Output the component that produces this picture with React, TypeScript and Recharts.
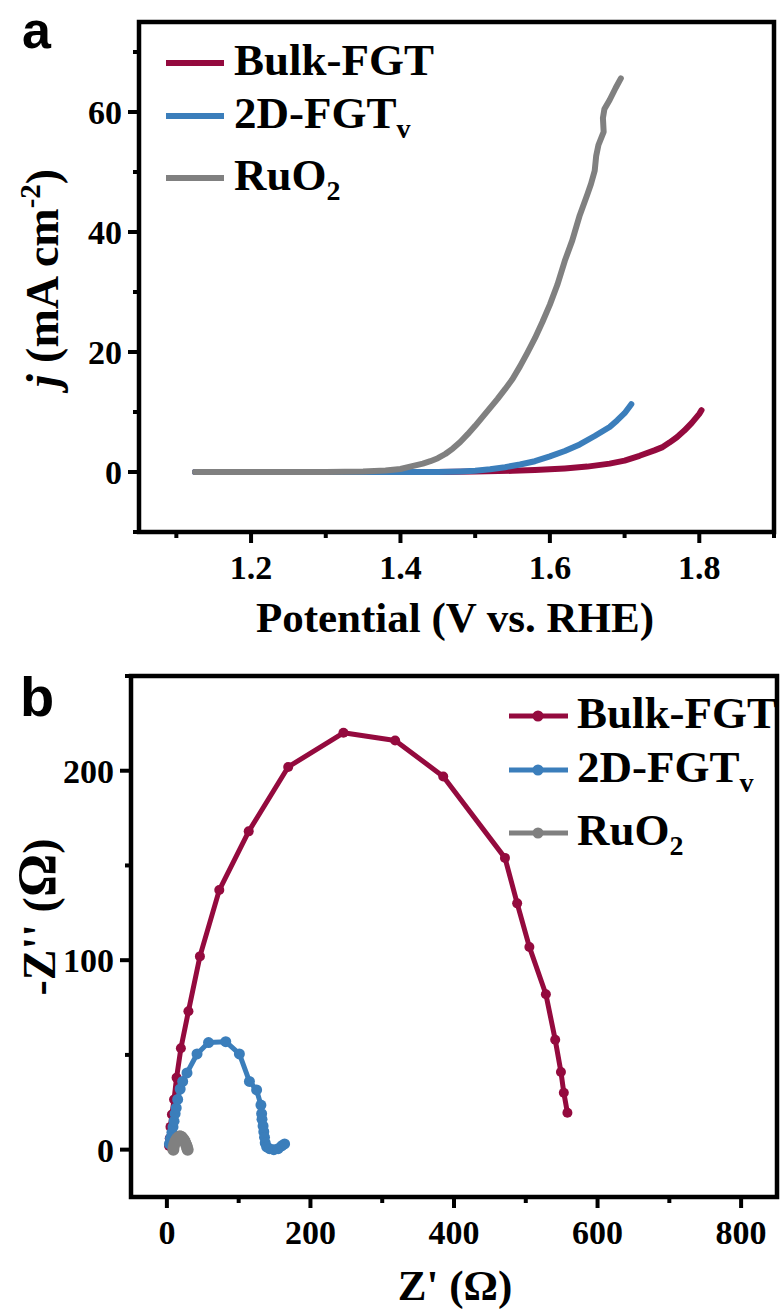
import React from 'react';
import { LineChart, Line, XAxis, YAxis, ReferenceArea, Legend } from 'recharts';

const RED = '#940A3E';
const BLUE = '#3B7EBB';
const GRAY = '#808080';
const SERIF = '"Liberation Serif", "Times New Roman", serif';
const SANS = '"Liberation Sans", Arial, sans-serif';

// ---------- Panel a: LSV ----------
const bulkPotential = [1.125, 1.2, 1.3, 1.4, 1.45, 1.5, 1.55, 1.58, 1.6, 1.62, 1.65, 1.68, 1.7, 1.72, 1.74, 1.75, 1.76, 1.77, 1.78, 1.79, 1.8, 1.803];
const bulkCurrent = [0, 0, 0, 0, 0.02, 0.07, 0.2, 0.35, 0.45, 0.6, 0.9, 1.4, 1.9, 2.7, 3.6, 4.1, 4.9, 5.8, 6.9, 8.2, 9.7, 10.3];

const twoDPotential = [1.125, 1.2, 1.3, 1.4, 1.45, 1.48, 1.5, 1.52, 1.54, 1.56, 1.58, 1.6, 1.62, 1.64, 1.66, 1.68, 1.69, 1.7, 1.709];
const twoDCurrent = [0, 0, 0, 0, 0.02, 0.1, 0.2, 0.45, 0.8, 1.25, 1.8, 2.6, 3.5, 4.6, 6.0, 7.5, 8.6, 9.8, 11.3];

const ruo2Potential = [1.125, 1.2, 1.3, 1.35, 1.38, 1.4, 1.41, 1.42, 1.43, 1.44, 1.45, 1.46, 1.47, 1.48, 1.49, 1.5, 1.51, 1.52, 1.53, 1.54, 1.55, 1.56, 1.57, 1.58, 1.59, 1.6, 1.61, 1.62, 1.63, 1.64, 1.65, 1.655, 1.66, 1.662, 1.665, 1.672, 1.671, 1.673, 1.68, 1.688, 1.695];
const ruo2Current = [0, 0, 0.02, 0.1, 0.25, 0.5, 0.8, 1.1, 1.4, 1.8, 2.3, 3.0, 3.9, 5.0, 6.3, 7.7, 9.2, 10.7, 12.2, 13.8, 15.5, 17.6, 19.9, 22.3, 25.0, 27.9, 31.2, 35.2, 38.6, 42.8, 46.2, 48.0, 50.2, 52.7, 54.5, 56.7, 59.0, 60.5, 62.0, 64.0, 65.6];

const xTicksA = [1.1, 1.2, 1.3, 1.4, 1.5, 1.6, 1.7, 1.8, 1.9];
const xLabelsA = ['', '1.2', '', '1.4', '', '1.6', '', '1.8', ''];
const yTicksA = [-10, 0, 10, 20, 30, 40, 50, 60, 70];
const yLabelsA = ['', '0', '', '20', '', '40', '', '60', ''];

// ---------- Panel b: EIS Nyquist ----------
const bulkZre = [3, 4, 5, 7, 10, 13.5, 19.5, 30, 46, 73, 114, 169, 246, 318, 385, 471, 488, 505, 528, 541, 549, 553, 558];
const bulkZim = [2, 6, 12, 18.5, 26.5, 38, 53.5, 73, 102, 137, 168, 202, 220, 216, 197, 154, 130, 107, 82, 58, 41, 30, 19.5];

const twoDZre = [3.5, 5, 7, 8.5, 10, 11.5, 13, 15, 18.5, 22, 28, 42, 58, 82, 101, 115, 125, 131, 132, 132.5, 134, 135, 136, 137, 139, 143, 149, 155, 160, 164];
const twoDZim = [3, 6, 9, 12, 15, 19, 22, 26.5, 32, 36, 40.5, 50.5, 56.5, 57, 50.5, 36, 31.5, 23.5, 19, 16, 12.5, 9.5, 6.5, 3.5, 1.5, 0.5, 0, 0.5, 2, 3];

const ruo2Zre = [9, 9.5, 10.5, 12, 14, 16, 18, 20, 22, 24, 25.5, 27, 28, 29];
const ruo2Zim = [0, 1.5, 3, 4.5, 5.8, 6.6, 7, 6.8, 6, 5, 3.8, 2.5, 1.2, 0];

const xTicksB = [0, 100, 200, 300, 400, 500, 600, 700, 800];
const xLabelsB = ['0', '', '200', '', '400', '', '600', '', '800'];
const yTicksB = [0, 50, 100, 150, 200, 250];
const yLabelsB = ['0', '', '100', '', '200', ''];

const zip = (xs: number[], ys: number[]) => xs.map((x, i) => ({ x, y: ys[i] }));

const findLabel = (ticks: number[], labels: string[], v: number) => {
  const i = ticks.findIndex((t) => Math.abs(t - v) < 1e-6);
  return i >= 0 ? labels[i] : '';
};

const makeXTick = (ticks: number[], labels: string[]) => (p: any) => {
  const v = p.payload.value;
  const lab = findLabel(ticks, labels, v);
  const major = lab !== '';
  return (
    <g key={`xt-${v}`}>
      <line x1={p.x} x2={p.x} y1={p.y} y2={p.y + (major ? 11 : 6)} stroke="#000" strokeWidth={4} />
      {major && (
        <text x={p.x} y={p.y + 47} textAnchor="middle" fontFamily={SERIF} fontWeight="bold" fontSize={34} fill="#000">
          {lab}
        </text>
      )}
    </g>
  );
};

const makeYTick = (ticks: number[], labels: string[]) => (p: any) => {
  const v = p.payload.value;
  const lab = findLabel(ticks, labels, v);
  const major = lab !== '';
  return (
    <g key={`yt-${v}`}>
      <line x1={p.x} x2={p.x - (major ? 11 : 6)} y1={p.y} y2={p.y} stroke="#000" strokeWidth={4} />
      {major && (
        <text x={p.x - 17} y={p.y + 12} textAnchor="end" fontFamily={SERIF} fontWeight="bold" fontSize={34} fill="#000">
          {lab}
        </text>
      )}
    </g>
  );
};

const legendText = (name: string, sub: string | null, x: number, y: number) => (
  <text x={x} y={y} fontFamily={SERIF} fontWeight="bold" fontSize={45} fill="#000">
    {name}
    {sub && (
      <tspan fontSize={28} dy={10}>
        {sub}
      </tspan>
    )}
  </text>
);

const DecorA = () => (
  <svg width={781} height={660} style={{ position: 'absolute', left: 0, top: 0, overflow: 'visible' }}>
    <text x={22} y={48} fontFamily={SANS} fontWeight="bold" fontSize={52} fill="#000">a</text>
    {[
      { c: RED, y: 63, n: 'Bulk-FGT', s: null },
      { c: BLUE, y: 116, n: '2D-FGT', s: 'v' },
      { c: GRAY, y: 178, n: 'RuO', s: '2' },
    ].map((r) => (
      <g key={r.n}>
        <line x1={166} x2={224} y1={r.y} y2={r.y} stroke={r.c} strokeWidth={6} />
        <circle cx={195} cy={r.y} r={2.5} fill={r.c} />
        {legendText(r.n, r.s, 234, r.y + 12)}
      </g>
    ))}
    <text x={455} y={632} textAnchor="middle" fontFamily={SERIF} fontWeight="bold" fontSize={43} fill="#000">
      Potential (V vs. RHE)
    </text>
    <text
      x={58}
      y={278}
      transform="rotate(-90, 58, 278)"
      textAnchor="middle"
      fontFamily={SERIF}
      fontWeight="bold"
      fontSize={46}
      fill="#000"
    >
      <tspan fontStyle="italic">j</tspan>
      <tspan> (mA cm</tspan>
      <tspan fontSize={29} dy={-18}>-2</tspan>
      <tspan dy={18}>)</tspan>
    </text>
  </svg>
);

const DecorB = () => (
  <svg width={781} height={656} style={{ position: 'absolute', left: 0, top: 0, overflow: 'visible' }}>
    <text x={20} y={56} fontFamily={SANS} fontWeight="bold" fontSize={56} fill="#000">b</text>
    {[
      { c: RED, y: 56, n: 'Bulk-FGT', s: null },
      { c: BLUE, y: 110, n: '2D-FGT', s: 'v' },
      { c: GRAY, y: 173, n: 'RuO', s: '2' },
    ].map((r) => (
      <g key={r.n}>
        <line x1={509} x2={568} y1={r.y} y2={r.y} stroke={r.c} strokeWidth={5} />
        <circle cx={538} cy={r.y} r={5.5} fill={r.c} />
        {legendText(r.n, r.s, 577, r.y + 12)}
      </g>
    ))}
    <text x={455} y={640} textAnchor="middle" fontFamily={SERIF} fontWeight="bold" fontSize={43} fill="#000">
      Z' (Ω)
    </text>
    <text
      x={55}
      y={257}
      transform="rotate(-90, 55, 257)"
      textAnchor="middle"
      fontFamily={SERIF}
      fontWeight="bold"
      fontSize={46}
      fill="#000"
    >
      -Z'' (<tspan fontSize={54}>Ω</tspan>)
    </text>
  </svg>
);

export default function App() {
  const a1 = zip(bulkPotential, bulkCurrent);
  const a2 = zip(twoDPotential, twoDCurrent);
  const a3 = zip(ruo2Potential, ruo2Current);
  const b1 = zip(bulkZre, bulkZim);
  const b2 = zip(twoDZre, twoDZim);
  const b3 = zip(ruo2Zre, ruo2Zim);

  return (
    <div style={{ position: 'absolute', left: 0, top: 0, width: 781, height: 1316, background: '#fff' }}>
      <div style={{ position: 'absolute', left: 0, top: 0 }}>
        <LineChart width={781} height={660} margin={{ top: 22, right: 7, bottom: 0, left: 0 }}>
          <XAxis
            type="number"
            dataKey="x"
            domain={[1.05, 1.9]}
            ticks={xTicksA}
            interval={0}
            allowDataOverflow
            height={128}
            tickSize={0}
            tickMargin={0}
            axisLine={false}
            tickLine={false}
            tick={makeXTick(xTicksA, xLabelsA)}
          />
          <YAxis
            type="number"
            domain={[-10, 75]}
            ticks={yTicksA}
            interval={0}
            allowDataOverflow
            width={139}
            tickSize={0}
            tickMargin={0}
            axisLine={false}
            tickLine={false}
            tick={makeYTick(yTicksA, yLabelsA)}
          />
          <Line data={a1} dataKey="y" name="Bulk-FGT" stroke={RED} strokeWidth={6} dot={false} strokeLinecap="round" strokeLinejoin="round" isAnimationActive={false} />
          <Line data={a2} dataKey="y" name="2D-FGTv" stroke={BLUE} strokeWidth={6} dot={false} strokeLinecap="round" strokeLinejoin="round" isAnimationActive={false} />
          <Line data={a3} dataKey="y" name="RuO2" stroke={GRAY} strokeWidth={6} dot={false} strokeLinecap="round" strokeLinejoin="round" isAnimationActive={false} />
          <ReferenceArea x1={1.05} x2={1.9} y1={-10} y2={75} ifOverflow="visible" fill="none" stroke="#000" strokeWidth={4.5} />
          <Legend
            layout="horizontal"
            verticalAlign="middle"
            align="center"
            wrapperStyle={{ left: 0, top: 0, width: 781, height: 660, pointerEvents: 'none' }}
            content={() => <DecorA />}
          />
        </LineChart>
      </div>
      <div style={{ position: 'absolute', left: 0, top: 660 }}>
        <LineChart width={781} height={656} margin={{ top: 16, right: 4, bottom: 0, left: 0 }}>
          <XAxis
            type="number"
            dataKey="x"
            domain={[-50, 850]}
            ticks={xTicksB}
            interval={0}
            allowDataOverflow
            height={119}
            tickSize={0}
            tickMargin={0}
            axisLine={false}
            tickLine={false}
            tick={makeXTick(xTicksB, xLabelsB)}
          />
          <YAxis
            type="number"
            domain={[-25, 250]}
            ticks={yTicksB}
            interval={0}
            allowDataOverflow
            width={131}
            tickSize={0}
            tickMargin={0}
            axisLine={false}
            tickLine={false}
            tick={makeYTick(yTicksB, yLabelsB)}
          />
          <Line data={b1} dataKey="y" name="Bulk-FGT" stroke={RED} strokeWidth={5} dot={{ r: 5, fill: RED, stroke: RED, strokeWidth: 0 }} strokeLinejoin="round" isAnimationActive={false} />
          <Line data={b2} dataKey="y" name="2D-FGTv" stroke={BLUE} strokeWidth={5} dot={{ r: 5.5, fill: BLUE, stroke: BLUE, strokeWidth: 0 }} strokeLinejoin="round" isAnimationActive={false} />
          <Line data={b3} dataKey="y" name="RuO2" stroke={GRAY} strokeWidth={7} dot={{ r: 6, fill: GRAY, stroke: GRAY, strokeWidth: 0 }} strokeLinejoin="round" isAnimationActive={false} />
          <ReferenceArea x1={-50} x2={850} y1={-25} y2={250} ifOverflow="visible" fill="none" stroke="#000" strokeWidth={4.5} />
          <Legend
            layout="horizontal"
            verticalAlign="middle"
            align="center"
            wrapperStyle={{ left: 0, top: 0, width: 781, height: 656, pointerEvents: 'none' }}
            content={() => <DecorB />}
          />
        </LineChart>
      </div>
    </div>
  );
}
